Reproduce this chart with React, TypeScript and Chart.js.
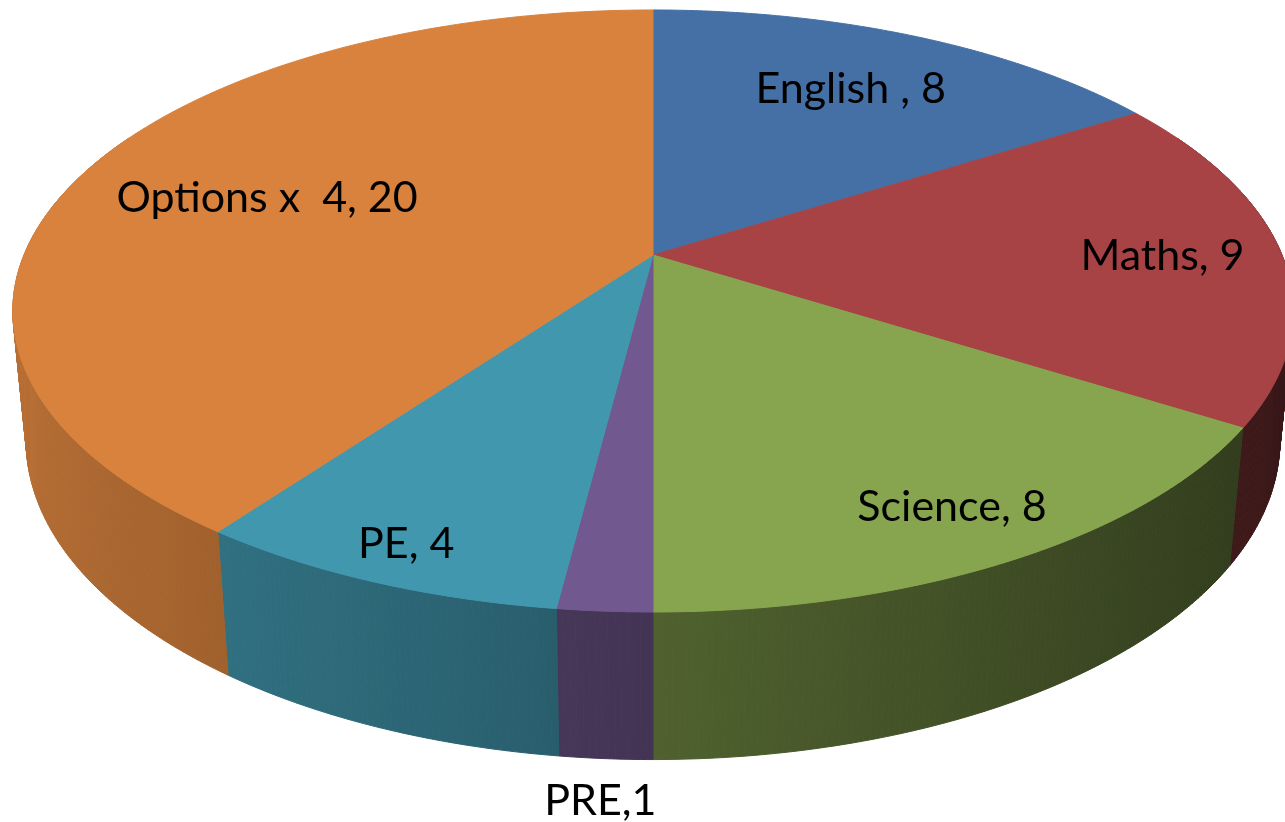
import React, { useEffect, useRef } from "react";
import { Chart, registerables } from "chart.js";

Chart.register(...registerables);

// ---- data ----
const categories = ["English ", "Maths", "Science", "PRE", "PE", "Options x  4"];
const values = [8, 9, 8, 1, 4, 20];
const separators = [", ", ", ", ", ", ",", ", ", ", "];
const topColors = [
  [69, 112, 165],
  [167, 67, 69],
  [135, 165, 79],
  [113, 88, 143],
  [65, 151, 174],
  [216, 130, 61],
];

// ---- 3D projection geometry (style, not data) ----
const CX = 653;
const CY = 255;
const RX = 629;
const RY = 290.6;
const K = -0.186; // perspective
const E = 0.0206; // bottom-face depth
const T = 130.5; // thickness
const labelRadius = [0.73, 0.81, 0.85, 1.09, 0.9, 0.67];
const labelOnBottom = [0, 0, 0, 1, 0, 0];
const FONT_SIZE = 43;

function proj(theta: number, r: number, h: number): [number, number] {
  const s = Math.sin(theta) * r;
  const c = Math.cos(theta) * r;
  const D = 1 + K * s + E * h;
  return [CX + (RX * c) / D, CY + (RY * s + T * h) / D];
}

function rgb(c: number[], f = 1) {
  return `rgb(${Math.round(c[0] * f)},${Math.round(c[1] * f)},${Math.round(c[2] * f)})`;
}

function shade(theta: number) {
  return 0.59 - 0.26 * Math.cos(theta);
}

const pie3d = {
  id: "pie3d",
  beforeDatasetsDraw(chart: any) {
    const meta = chart.getDatasetMeta(0);
    const ctx: CanvasRenderingContext2D = chart.ctx;
    const arcs = meta.data.map((a: any, i: number) => ({
      start: a.startAngle as number,
      end: a.endAngle as number,
      i,
    }));
    const step = Math.PI / 360;
    const LO = -0.45;
    const HI = Math.PI + 0.45;
    ctx.save();
    // front walls
    arcs.forEach((a: any) => {
      const lo = Math.max(a.start, LO);
      const hi = Math.min(a.end, HI);
      if (hi <= lo) return;
      const n = Math.max(2, Math.ceil((hi - lo) / step));
      const top: [number, number][] = [];
      const bot: [number, number][] = [];
      const angs: number[] = [];
      for (let j = 0; j <= n; j++) {
        const t = lo + ((hi - lo) * j) / n;
        angs.push(t);
        top.push(proj(t, 1, 0));
        bot.push(proj(t, 1, 1));
      }
      // gradient stops from the front half only (x monotonic there)
      const fLo = Math.max(a.start, 0);
      const fHi = Math.min(a.end, Math.PI);
      const stops: { x: number; c: string }[] = [];
      if (fHi > fLo) {
        const ns = 16;
        for (let j = 0; j <= ns; j++) {
          const t = fLo + ((fHi - fLo) * j) / ns;
          stops.push({ x: proj(t, 1, 0.5)[0], c: rgb(topColors[a.i], shade(t)) });
        }
      } else {
        const t = (lo + hi) / 2;
        stops.push({ x: proj(t, 1, 0.5)[0], c: rgb(topColors[a.i], shade(t)) });
      }
      const xs = stops.map((s) => s.x);
      const minX = Math.min(...xs);
      const maxX = Math.max(...xs) + 0.01;
      const g = ctx.createLinearGradient(minX, 0, maxX, 0);
      stops.forEach((s) => g.addColorStop((s.x - minX) / (maxX - minX), s.c));
      ctx.fillStyle = g;
      ctx.strokeStyle = g;
      ctx.lineWidth = 1;
      ctx.lineJoin = "round";
      for (let j = 0; j < n; j++) {
        ctx.beginPath();
        ctx.moveTo(top[j][0], top[j][1]);
        ctx.lineTo(top[j + 1][0], top[j + 1][1]);
        ctx.lineTo(bot[j + 1][0], bot[j + 1][1]);
        ctx.lineTo(bot[j][0], bot[j][1]);
        ctx.closePath();
        ctx.fill();
        ctx.stroke();
      }
    });
    // top faces
    arcs.forEach((a: any) => {
      const col = rgb(topColors[a.i]);
      ctx.beginPath();
      const c0 = proj(0, 0, 0);
      ctx.moveTo(c0[0], c0[1]);
      const n = Math.max(1, Math.ceil((a.end - a.start) / step));
      for (let j = 0; j <= n; j++) {
        const t = a.start + ((a.end - a.start) * j) / n;
        const p = proj(t, 1, 0);
        ctx.lineTo(p[0], p[1]);
      }
      ctx.closePath();
      ctx.fillStyle = col;
      ctx.strokeStyle = col;
      ctx.lineWidth = 1;
      ctx.fill();
      ctx.stroke();
    });
    ctx.restore();
    return false;
  },
  afterDraw(chart: any) {
    const meta = chart.getDatasetMeta(0);
    const ctx: CanvasRenderingContext2D = chart.ctx;
    ctx.save();
    ctx.font = `${FONT_SIZE}px Lato, "Open Sans", sans-serif`;
    ctx.fillStyle = "#000000";
    ctx.textAlign = "center";
    ctx.textBaseline = "alphabetic";
    meta.data.forEach((a: any, i: number) => {
      const mid = (a.startAngle + a.endAngle) / 2;
      const p = proj(mid, labelRadius[i], labelOnBottom[i]);
      const text = `${categories[i]}${separators[i]}${values[i]}`;
      ctx.fillText(text, p[0], p[1] + FONT_SIZE * 0.34);
    });
    ctx.restore();
  },
};

export default function App() {
  const ref = useRef<HTMLCanvasElement | null>(null);
  useEffect(() => {
    if (!ref.current) return;
    const chart = new Chart(ref.current, {
      type: "pie",
      data: {
        labels: categories,
        datasets: [
          {
            data: values,
            backgroundColor: topColors.map((c) => rgb(c)),
            borderWidth: 0,
          },
        ],
      },
      options: {
        responsive: false,
        animation: false,
        layout: { padding: 0 },
        plugins: {
          legend: { display: false },
          tooltip: { enabled: false },
        },
      },
      plugins: [pie3d as any],
    });
    return () => chart.destroy();
  }, []);
  return (
    <div style={{ position: "fixed", left: 0, top: 0, width: 1285, height: 822, background: "#ffffff" }}>
      <canvas ref={ref} width={1285} height={822} />
    </div>
  );
}
